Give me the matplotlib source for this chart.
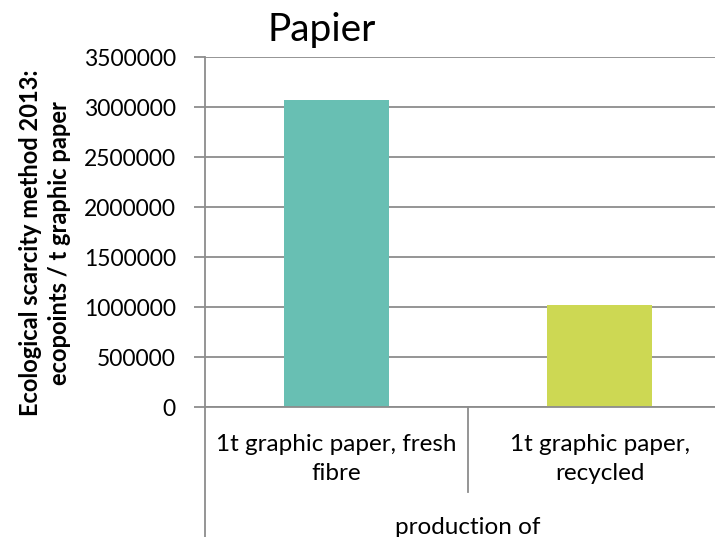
import matplotlib
matplotlib.use("Agg")
import matplotlib.pyplot as plt
from matplotlib.lines import Line2D
from matplotlib.ticker import FuncFormatter
import matplotlib.transforms as mtransforms

categories = ["1t graphic paper, fresh\nfibre", "1t graphic paper,\nrecycled"]
values = [3070000, 1020000]
colors = ["#68BFB3", "#CDD853"]
yticks = [0, 500000, 1000000, 1500000, 2000000, 2500000, 3000000, 3500000]
title = "Papier"
ylabel = "Ecological scarcity method 2013:\necopoints / t graphic paper"
group_label = "production of"

plt.rcParams['font.family'] = ['Lato', 'DejaVu Sans']

W, H = 715, 537
fig = plt.figure(figsize=(W / 100, H / 100), dpi=100)
ax_l, ax_r, ax_b, ax_t = 205, 715, 407, 57
ax = fig.add_axes([ax_l / W, (H - ax_b) / H, (ax_r - ax_l) / W, (ax_b - ax_t) / H])

cat_px = 263.0
ax.set_xlim(-0.5, -0.5 + (ax_r - ax_l) / cat_px)
ax.set_ylim(0, 3500000)

grid_c = "#8C8C8C"
ax.set_yticks(yticks)
ax.yaxis.set_major_formatter(FuncFormatter(lambda v, p: f"{int(v)}"))
ax.grid(axis="y", color=grid_c, linewidth=1.3, zorder=0)
ax.set_axisbelow(True)

ax.bar(range(len(values)), values, width=0.4, color=colors, zorder=2)

for s in ["top", "right"]:
    ax.spines[s].set_visible(False)
ax.spines["left"].set_color(grid_c)
ax.spines["left"].set_linewidth(1.3)
ax.spines["bottom"].set_color(grid_c)
ax.spines["bottom"].set_linewidth(1.3)

ax.tick_params(axis="y", direction="out", length=8, width=1.3, color=grid_c,
               labelsize=16.5, pad=13, labelcolor="black")
ax.set_xticks([])

trans = mtransforms.blended_transform_factory(ax.transData, fig.transFigure)
for i, c in enumerate(categories):
    ax.text(i, 1 - 459 / H, c, transform=trans, ha="center", va="center",
            fontsize=17.5, linespacing=1.45, clip_on=False)

# divider between categories and extended axis line
fig.add_artist(Line2D([468 / W, 468 / W], [1 - 407 / H, 1 - 492 / H],
                      transform=fig.transFigure, color=grid_c, linewidth=1.3))
fig.add_artist(Line2D([ax_l / W, ax_l / W], [1 - 407 / H, 0],
                      transform=fig.transFigure, color=grid_c, linewidth=1.3))

fig.text(468 / W, 1 - 527 / H, group_label, ha="center", va="center", fontsize=17.5)

fig.text(322 / W, 1 - 30 / H, title, ha="center", va="center", fontsize=28)

fig.text(45 / W, 1 - 243 / H, ylabel, rotation=90, ha="center", va="center",
         fontsize=17, fontweight="bold", linespacing=1.3)

fig.savefig("out.png", dpi=100, facecolor="white")
